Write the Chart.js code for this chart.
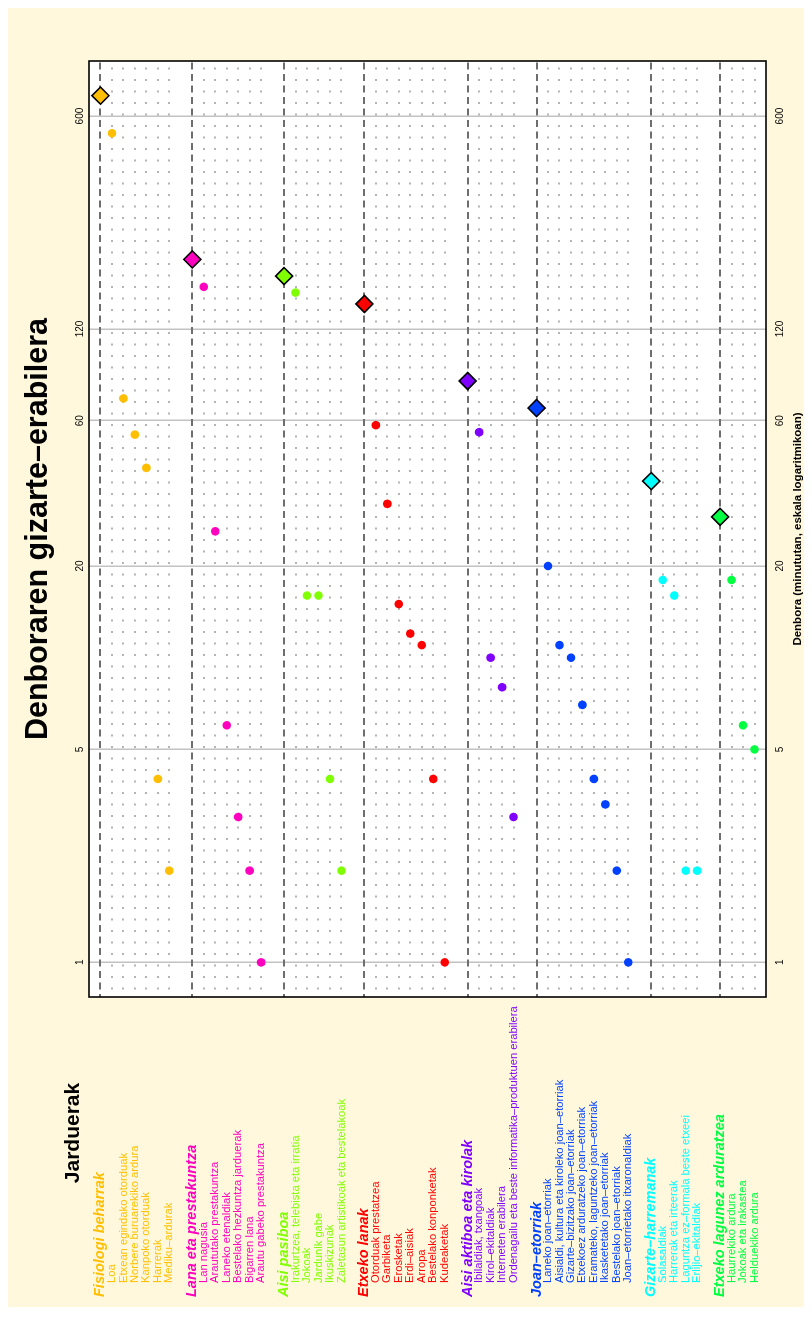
<!DOCTYPE html>
<html>
<head>
<meta charset="utf-8">
<script src="https://cdn.jsdelivr.net/npm/chart.js@4.4.0/dist/chart.umd.min.js"></script>
<style>
  html, body { margin: 0; padding: 0; background: #ffffff; width: 812px; height: 1317px; overflow: hidden; }
  /* The figure is laid out landscape and turned a quarter turn to stand upright on the page */
  #frame { position: absolute; left: 0; top: 0; width: 1317px; height: 812px;
           transform-origin: 0 0; transform: translate(0, 1317px) rotate(-90deg); }
  #frame canvas { display: block; }
</style>
</head>
<body>
<div id="frame"><canvas id="chart" width="1317" height="812"></canvas></div>
<script>
// ---- Activity groups (minutes per day) ----
const groupNames = [
  'Fisiologi beharrak', 'Lana eta prestakuntza', 'Aisi pasiboa', 'Etxeko lanak',
  'Aisi aktiboa eta kirolak', 'Joan–etorriak', 'Gizarte–harremanak', 'Etxeko lagunez arduratzea'
];
const groupColors = ['#FFBF00', '#FF00BF', '#80FF00', '#FF0000', '#8000FF', '#0040FF', '#00FFFF', '#00FF40'];
const groupTotals = [700, 203, 179, 145, 81, 66, 38, 29];

const fisiologiItems = ['Loa', 'Etxean egindako otorduak', 'Norbere buruarekiko ardura', 'Kanpoko otorduak', 'Harrerak', 'Mediku–ardurak'];
const fisiologiMinutes = [527, 71, 54, 42, 4, 2];

const lanaItems = ['Lan nagusia', 'Araututako prestakuntza', 'Laneko etenaldiak', 'Bestelako hezkuntza jarduerak', 'Bigarren lana', 'Arautu gabeko prestakuntza'];
const lanaMinutes = [165, 26, 6, 3, 2, 1];

const pasiboItems = ['Irakurtzea, telebista eta irratia', 'Jokoak', 'Jardunik gabe', 'Ikuskizunak', 'Zaletasun artistikoak eta bestelakoak'];
const pasiboMinutes = [158, 16, 16, 4, 2];

const etxekoItems = ['Otorduak prestatzea', 'Garbiketa', 'Erosketak', 'Erdi–aisiak', 'Arropa', 'Bestelako konponketak', 'Kudeaketak'];
const etxekoMinutes = [58, 32, 15, 12, 11, 4, 1];

const aktiboItems = ['Ibilaldiak, txangoak', 'Kirol–ekitaldiak', 'Interneten erabilera', 'Ordenagailu eta beste informatika–produktuen erabilera'];
const aktiboMinutes = [55, 10, 8, 3];

const joanItems = ['Laneko joan–etorriak', 'Aisialdi, kultura eta kiroleko joan–etorriak', 'Gizarte–bizitzako joan–etorriak',
  'Etxekoez arduratzeko joan–etorriak', 'Eramateko, laguntzeko joan–etorriak', 'Ikasketetako joan–etorriak',
  'Bestelako joan–etorriak', 'Joan–etorrietako itxaronaldiak'];
const joanMinutes = [20, 11, 10, 7, 4, 3.3, 2, 1];

const gizarteItems = ['Solasaldiak', 'Harrerak eta irteerak', 'Laguntza ez–formala beste etxeei', 'Erlijio–ekitaldiak'];
const gizarteMinutes = [18, 16, 2, 2];

const lagunezItems = ['Haurrekiko ardura', 'Jokoak eta irakastea', 'Helduekiko ardura'];
const lagunezMinutes = [18, 6, 5];

const timeTicks = [1, 5, 20, 60, 120, 600];

const itemNames = [fisiologiItems, lanaItems, pasiboItems, etxekoItems, aktiboItems, joanItems, gizarteItems, lagunezItems];
const itemMinutes = [fisiologiMinutes, lanaMinutes, pasiboMinutes, etxekoMinutes, aktiboMinutes, joanMinutes, gizarteMinutes, lagunezMinutes];

// ---- Row slots: group header, its activities, then one empty row ----
const slotKind = [null];
const groupSlots = [];
groupNames.forEach((g, gi) => {
  if (gi > 0) slotKind.push('gap');
  groupSlots.push(slotKind.length);
  slotKind.push('head');
  itemNames[gi].forEach(() => slotKind.push('item'));
});
const slotCount = slotKind.length - 1;

// log axis limits with 4% breathing room on each end
const allValues = groupTotals.concat(...itemMinutes);
const lnLo = Math.log(Math.min(...allValues)), lnHi = Math.log(Math.max(...allValues));
const lnPad = 0.04 * (lnHi - lnLo);
const axisMin = Math.exp(lnLo - lnPad), axisMax = Math.exp(lnHi + lnPad);

const datasets = groupNames.map((g, gi) => {
  const s = groupSlots[gi];
  const pts = [{ x: groupTotals[gi], y: s }].concat(itemMinutes[gi].map((m, i) => ({ x: m, y: s + 1 + i })));
  return {
    label: g,
    data: pts,
    backgroundColor: groupColors[gi],
    borderColor: ctx => ctx.dataIndex === 0 ? '#000000' : groupColors[gi],
    borderWidth: ctx => ctx.dataIndex === 0 ? 1.6 : 0,
    pointStyle: ctx => ctx.dataIndex === 0 ? 'rectRot' : 'circle',
    pointRadius: ctx => ctx.dataIndex === 0 ? 8.5 : 4.3,
    pointHoverRadius: ctx => ctx.dataIndex === 0 ? 8.5 : 4.3
  };
});

const narrow = '"Liberation Sans Narrow", "Liberation Sans", Arial, sans-serif';
const sans = '"Liberation Sans", Arial, sans-serif';

const backdrop = {
  id: 'backdrop',
  beforeDraw(chart) {
    const { ctx, width, height } = chart;
    ctx.save();
    ctx.fillStyle = '#ffffff';
    ctx.fillRect(0, 0, width, height);
    ctx.fillStyle = '#FFF8DC';
    ctx.fillRect(10, 8, 1299, 796);
    const a = chart.chartArea;
    ctx.fillStyle = '#ffffff';
    ctx.fillRect(a.left, a.top, a.right - a.left, a.bottom - a.top);
    ctx.restore();
  }
};

const plotFrame = {
  id: 'plotFrame',
  afterDatasetsDraw(chart) {
    const { ctx, chartArea: a } = chart;
    ctx.save();
    ctx.strokeStyle = '#000000';
    ctx.lineWidth = 1.6;
    ctx.strokeRect(a.left, a.top, a.right - a.left, a.bottom - a.top);
    ctx.restore();
  }
};

// Activity key, one text row per plotted row
const activityKey = {
  id: 'activityKey',
  afterDraw(chart) {
    const { ctx } = chart;
    const ys = chart.scales.y;
    ctx.save();
    ctx.textAlign = 'left';
    ctx.textBaseline = 'middle';
    groupNames.forEach((g, gi) => {
      const s = groupSlots[gi];
      ctx.fillStyle = groupColors[gi];
      ctx.font = 'italic bold 14.5px ' + sans;
      ctx.fillText(g, 20, ys.getPixelForValue(s));
      ctx.font = '11.2px ' + sans;
      itemNames[gi].forEach((n, i) => ctx.fillText(n, 34, ys.getPixelForValue(s + 1 + i)));
    });
    ctx.fillStyle = '#000000';
    ctx.textAlign = 'center';
    ctx.font = 'bold 21px ' + narrow;
    ctx.fillText('Jarduerak', 184, 73);
    ctx.restore();
  }
};

const setTimeTicks = scale => { scale.ticks = timeTicks.map(v => ({ value: v })); };

new Chart(document.getElementById('chart'), {
  type: 'scatter',
  data: { datasets },
  options: {
    responsive: false,
    animation: false,
    events: [],
    layout: { padding: { left: 320, right: 61, top: 0, bottom: 0 } },
    plugins: {
      legend: { display: false },
      tooltip: { enabled: false },
      title: {
        display: true,
        fullSize: false,
        text: 'Denboraren gizarte–erabilera',
        color: '#000000',
        font: { family: narrow, size: 30.5, weight: 'bold', lineHeight: 1.2 },
        padding: { top: 20, bottom: 13 }
      }
    },
    scales: {
      x: {
        type: 'logarithmic',
        position: 'bottom',
        min: axisMin,
        max: axisMax,
        afterBuildTicks: setTimeTicks,
        afterFit: s => { s.height = 46; },
        ticks: { callback: v => String(v), color: '#000000', font: { family: narrow, size: 10 }, padding: 8, maxRotation: 0, autoSkip: false },
        grid: { color: '#c2c2c2', lineWidth: 1.5, drawTicks: false },
        border: { display: false },
        title: {
          display: true,
          text: 'Denbora (minututan, eskala logaritmikoan)',
          color: '#000000',
          font: { family: narrow, size: 11.5, weight: 'bold', lineHeight: 1.2 },
          padding: { top: 0, bottom: 7 }
        }
      },
      x2: {
        type: 'logarithmic',
        position: 'top',
        min: axisMin,
        max: axisMax,
        afterBuildTicks: setTimeTicks,
        afterFit: s => { s.height = 19.4; },
        ticks: { callback: v => String(v), color: '#000000', font: { family: narrow, size: 10 }, padding: 3, maxRotation: 0, autoSkip: false },
        grid: { display: false, drawTicks: false },
        border: { display: false }
      },
      y: {
        type: 'linear',
        reverse: true,
        min: 0,
        max: slotCount + 1,
        afterBuildTicks: scale => {
          const t = [];
          for (let i = 1; i <= slotCount; i++) t.push({ value: i });
          scale.ticks = t;
        },
        afterFit: s => { s.width = 0; },
        ticks: { display: false },
        grid: {
          drawTicks: false,
          color: ctx => {
            const k = slotKind[ctx.tick ? ctx.tick.value : 0];
            return k === 'head' ? '#6e6e6e' : k === 'item' ? '#b4b4b4' : 'rgba(0,0,0,0)';
          },
          lineWidth: 2
        },
        border: {
          display: false,
          dash: ctx => {
            const k = slotKind[ctx.tick ? ctx.tick.value : 0];
            return k === 'head' ? [7, 4.5] : [2, 9.5];
          },
          dashOffset: 4
        }
      }
    }
  },
  plugins: [backdrop, plotFrame, activityKey]
});
</script>
</body>
</html>
